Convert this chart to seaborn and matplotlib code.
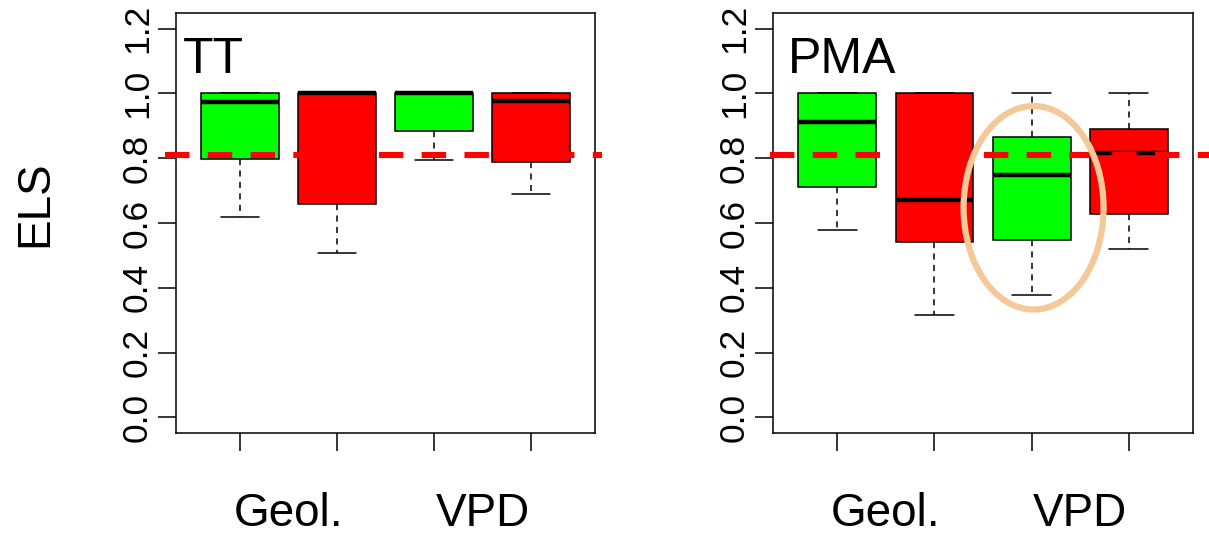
import matplotlib
matplotlib.use("Agg")
import matplotlib.pyplot as plt
import matplotlib.transforms as mtransforms
from matplotlib.patches import Ellipse
import numpy as np
import pandas as pd
import seaborn as sns

# ---------------- data (five-number summaries) ----------
panels = ["TT", "PMA"]
positions = [0, 1, 2, 3]
conditions = ["green", "red", "green", "red"]
group_labels = ["Geol.", "VPD"]
group_label_pos = [0.5, 2.5]

# each entry: [lower whisker, Q1, median, Q3, upper whisker]
tt_stats = [
    [0.618, 0.799, 0.973, 1.000, 1.000],
    [0.507, 0.659, 1.000, 1.000, 1.000],
    [0.794, 0.884, 1.000, 1.000, 1.000],
    [0.691, 0.787, 0.977, 1.000, 1.000],
]
pma_stats = [
    [0.579, 0.712, 0.911, 1.000, 1.000],
    [0.317, 0.542, 0.671, 1.000, 1.000],
    [0.379, 0.548, 0.747, 0.864, 1.000],
    [0.521, 0.628, 0.815, 0.890, 1.000],
]
threshold = 0.81
y_ticks = [0.0, 0.2, 0.4, 0.6, 0.8, 1.0, 1.2]
y_label = "ELS"

palette = {"green": "#00FF00", "red": "#FF0000"}


def to_frame(stats):
    rows = []
    for pos, cond, five in zip(positions, conditions, stats):
        for v in five:
            rows.append({"pos": pos, "cond": cond, "value": v})
    return pd.DataFrame(rows)


sns.set_style("ticks")
plt.rcParams["font.family"] = ["Liberation Sans", "DejaVu Sans"]
plt.rcParams["text.color"] = "black"
plt.rcParams["axes.labelcolor"] = "black"
plt.rcParams["xtick.color"] = "black"
plt.rcParams["ytick.color"] = "black"
plt.rcParams["axes.edgecolor"] = "black"

W, H = 1209, 535
fig = plt.figure(figsize=(W / 100, H / 100), dpi=100)

ax_rects = [
    [176 / W, (H - 433) / H, 419 / W, 420 / H],
    [773 / W, (H - 433) / H, 420 / W, 420 / H],
]
panel_text_x = [-0.585, -0.51]
line_extent = [(-0.773, 3.73), (-0.69, 3.85)]

for i, (name, stats) in enumerate(zip(panels, [tt_stats, pma_stats])):
    ax = fig.add_axes(ax_rects[i])
    df = to_frame(stats)
    sns.boxplot(
        data=df, x="pos", y="value", hue="cond", palette=palette,
        dodge=False, legend=False, width=0.8, whis=1.5, ax=ax,
        saturation=1, linecolor="black", linewidth=1.1, showfliers=False,
        boxprops=dict(linewidth=1.1, edgecolor="black"),
        medianprops=dict(linewidth=3.2, color="black", solid_capstyle="butt"),
        whiskerprops=dict(linewidth=1.1, linestyle=(0, (4, 3.5)), color="black"),
        capprops=dict(linewidth=1.1, color="black"),
    )
    ax.set_xlim(-0.66, 3.66)
    ax.set_ylim(-0.048, 1.248)
    ax.set_xlabel("")
    ax.set_ylabel("")
    ax.set_xticks(positions)
    ax.set_xticklabels([])
    ax.set_yticks(y_ticks)
    ax.set_yticklabels([f"{t:.1f}" for t in y_ticks], rotation=90,
                       va="center", ha="right", fontsize=25.5)
    ax.tick_params(axis="both", direction="out", length=13, width=1.1,
                   color="black", labelcolor="black", pad=3)
    for sp in ax.spines.values():
        sp.set_visible(True)
        sp.set_linewidth(1.1)
        sp.set_color("black")

    # red dashed threshold line
    x0, x1 = line_extent[i]
    ax.plot([x0, x1], [threshold, threshold], color="#FF0000", lw=4.4,
            linestyle=(0, (4, 3)), clip_on=False, zorder=6)

    # panel name
    ax.text(panel_text_x[i], 1.062, name, fontsize=36, ha="left",
            va="baseline", zorder=7)

    # group labels below
    trans = mtransforms.blended_transform_factory(ax.transData, fig.transFigure)
    for lab, xp in zip(group_labels, group_label_pos):
        ax.text(xp, 1 - 526 / H, lab, transform=trans, fontsize=33,
                ha="center", va="baseline", clip_on=False)

    if name == "PMA":
        ell = Ellipse((2.02, 0.647), width=1.44, height=0.628, fill=False,
                      edgecolor="#F5C898", lw=4.5, zorder=8, clip_on=False)
        ax.add_patch(ell)

fig.text(35 / W, 1 - 204 / H, y_label, rotation=90, fontsize=33,
         ha="center", va="center")

fig.savefig("out.png", dpi=100)
